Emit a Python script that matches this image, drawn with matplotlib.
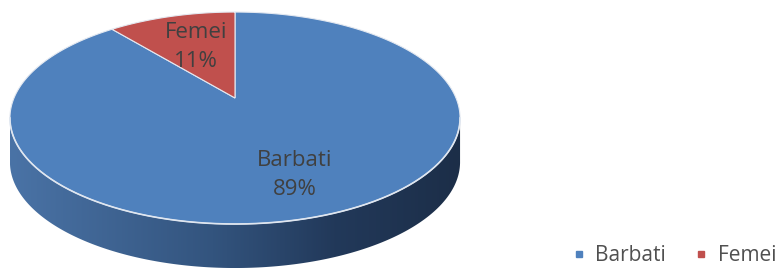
import matplotlib
matplotlib.use("Agg")
import matplotlib.pyplot as plt
import numpy as np
from matplotlib.colors import LinearSegmentedColormap
from matplotlib.lines import Line2D
from matplotlib.patches import Polygon

# Data
labels = ["Barbati", "Femei"]
shares = [89, 11]
colours = ["#4F81BD", "#C0504D"]

# Pie geometry in pixels (perspective-projected disc)
cx, cy = 235, 98
sx, sy = 221, 102.2
k = 0.189
depth = 44
textColour = "#404040"
fontName = "Open Sans"


def proj(t, r=1.0):
    X = r * np.cos(t)
    Y = r * np.sin(t)
    d = 1 + k * Y
    return cx + sx * X / d, cy - sy * Y / d


fig = plt.figure(figsize=(7.76, 2.70), dpi=100)
ax = fig.add_axes([0, 0, 1, 1])
ax.set_xlim(0, 776)
ax.set_ylim(270, 0)
ax.axis("off")

# Side wall: near half of the rim, from the left silhouette to the right one
t0 = np.arcsin(-k)
tFront = np.linspace(np.pi - t0, 2 * np.pi + t0, 300)
fx, fy = proj(tFront)
sidePts = np.column_stack([np.r_[fx, fx[::-1]], np.r_[fy, fy[::-1] + depth]])
side = Polygon(sidePts, closed=True, facecolor="none", edgecolor="none")
ax.add_patch(side)
cmap = LinearSegmentedColormap.from_list(
    "side", [(0, "#4a73a6"), (0.45, "#33547e"), (0.72, "#22395a"),
             (1, "#1c2e48")])
grad = np.linspace(0, 1, 256).reshape(1, -1)
img = ax.imshow(grad, cmap=cmap, aspect="auto",
                extent=[fx.min(), fx.max(), fy.max() + depth, fy.min()],
                zorder=1)
img.set_clip_path(side)

# Top face slices, clockwise from 12 o'clock
start = np.pi / 2
for lab, val, col in zip(labels, shares, colours):
    span = 2 * np.pi * val / 100
    t = np.linspace(start, start - span, 300)
    px, py = proj(t)
    pts = np.column_stack([np.r_[cx, px, cx], np.r_[cy, py, cy]])
    ax.add_patch(Polygon(pts, closed=True, facecolor=col,
                         edgecolor="#e4e9f1", linewidth=0.8, zorder=2))
    mid = start - span / 2
    r = 0.7 if val > 50 else 0.58
    lx, ly = proj(mid, r)
    ax.text(lx, ly, "%s\n%d%%" % (lab, val), ha="center", va="center",
            color=textColour, fontsize=16, family=fontName,
            linespacing=1.5, zorder=3)
    start -= span

# Highlight on the front rim
ax.plot(fx, fy, color="#dfe6f0", linewidth=1.2, zorder=2.5)

# Legend
handles = [Line2D([], [], marker="s", linestyle="none", markersize=5,
                  color=c) for c in colours]
ax.legend(handles, labels, loc="center right", ncol=2, frameon=False,
          bbox_to_anchor=(1.025, 0.052),
          prop={"family": fontName, "size": 15}, labelcolor="#505050",
          handlelength=0.6, handletextpad=0.5, columnspacing=1.4)

fig.savefig("out.png", dpi=100)
